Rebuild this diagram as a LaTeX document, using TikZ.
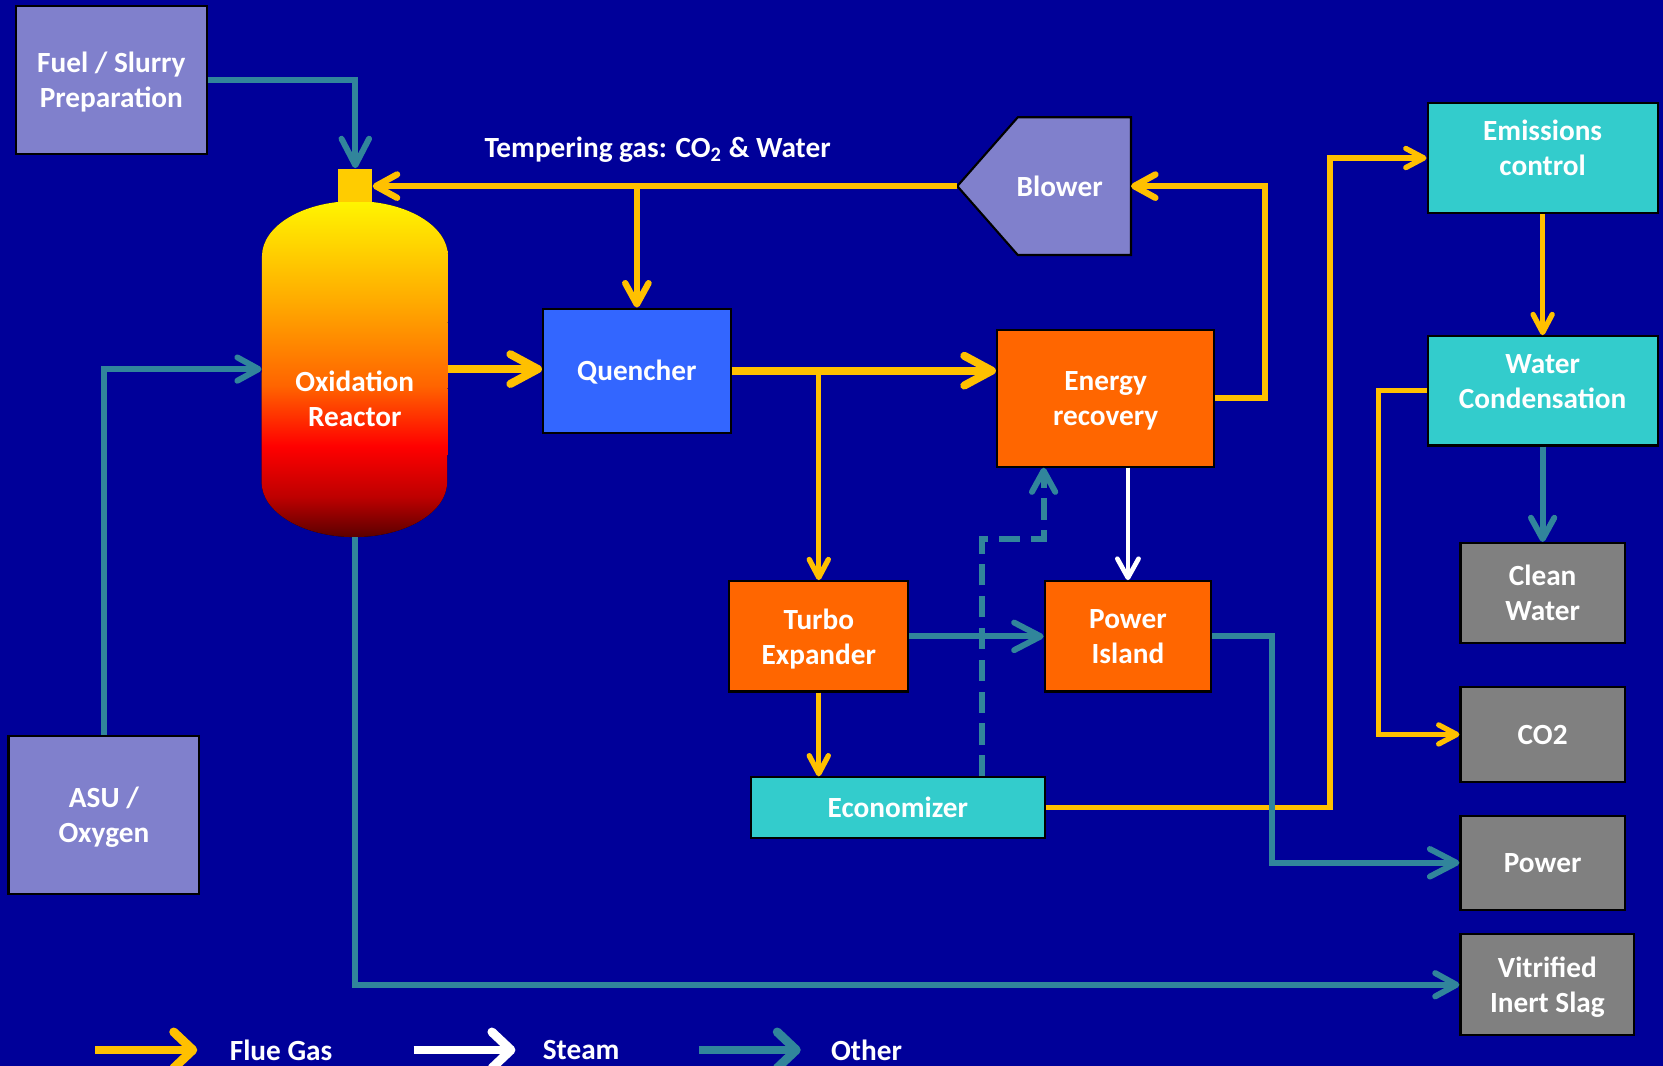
\documentclass[tikz,border=0pt]{standalone}
\usepackage{fontspec}
\setmainfont{Carlito}
\usetikzlibrary{arrows.meta,calc}
\definecolor{bgblue}{RGB}{0,0,153}
\definecolor{lav}{RGB}{128,128,204}
\definecolor{qblue}{RGB}{51,102,255}
\definecolor{orng}{RGB}{255,102,0}
\definecolor{cyanbox}{RGB}{51,204,204}
\definecolor{graybox}{RGB}{128,128,128}
\definecolor{flueY}{RGB}{255,192,0}
\definecolor{tealO}{RGB}{49,133,155}
\definecolor{nozzleY}{RGB}{255,204,0}
\definecolor{rdark}{RGB}{90,0,0}
\definecolor{rdark2}{RGB}{190,0,0}
\definecolor{rred}{RGB}{255,0,0}
\definecolor{ror1}{RGB}{255,100,0}
\definecolor{ror2}{RGB}{255,170,0}
\definecolor{ryel}{RGB}{255,245,0}
\pgfdeclareverticalshading{reactorshade}{100bp}{color(0bp)=(rdark); color(25bp)=(rdark); color(31bp)=(rdark2); color(38.5bp)=(rred); color(47.5bp)=(ror1); color(60bp)=(ror2); color(75bp)=(ryel); color(100bp)=(ryel)}
\tikzset{
  lbl/.style={text=white, font=\bfseries\fontsize{13.8pt}{16.5pt}\selectfont, align=center, inner sep=0pt},
  box/.style={lbl, draw=black, line width=1pt, fill=#1, text depth=0pt},
  flue/.style={draw=flueY, line width=2.5pt, -{Straight Barb[length=8.5pt,width=9pt,round]}},
  fluemid/.style={draw=flueY, line width=3pt, -{Straight Barb[length=10pt,width=11pt,round]}},
  fluethick/.style={draw=flueY, line width=3.8pt, -{Straight Barb[length=13pt,width=14pt,round]}},
  other/.style={draw=tealO, line width=2.8pt, -{Straight Barb[length=10pt,width=11pt,round]}},
  otherbig/.style={draw=tealO, line width=2.8pt, -{Straight Barb[length=12.5pt,width=13pt,round]}},
  otherdash/.style={other, dash pattern=on 10pt off 5pt},
  steamline/.style={draw=white, line width=2.2pt, -{Straight Barb[length=9pt,width=10pt,round]}},
  legendline/.style={line width=4.2pt, -{Straight Barb[length=9pt,width=17pt,round]}},
}
\begin{document}
\begin{tikzpicture}[x=0.5pt,y=-0.5pt]
\useasboundingbox (0,0) rectangle (1568,1005);
\fill[bgblue] (0,0) rectangle (1568,1005);

% nodes
\node[box=lav, minimum width=90pt, minimum height=69.5pt] (fuel) at (105,75.5) {Fuel / Slurry\\Preparation};
\node[box=lav, minimum width=90pt, minimum height=74.5pt] (asu) at (98,768.5) {ASU /\\Oxygen};
\node[box=qblue, minimum width=88.5pt, minimum height=58.5pt] (quencher) at (600.5,349.5) {Quencher};
\node[box=orng, minimum width=102.5pt, minimum height=64.5pt] (energy) at (1042.5,375.5) {Energy\\recovery};
\node[box=orng, minimum width=84.5pt, minimum height=52pt] (turbo) at (772,600) {Turbo\\Expander};
\node[box=orng, minimum width=78.5pt, minimum height=52pt] (pisland) at (1063.5,600) {Power\\Island};
\node[box=cyanbox, minimum width=138.5pt, minimum height=28.5pt] (econ) at (846.5,761.5) {Economizer};
\node[box=cyanbox, minimum width=108.5pt, minimum height=52pt] (emis) at (1454.5,149) {};
\node[lbl] (emistext) at (1454.5,139.5) {Emissions\\control};
\node[box=cyanbox, minimum width=108.5pt, minimum height=51.5pt] (wc) at (1454.5,368.5) {};
\node[lbl] (wctext) at (1454.5,359.5) {Water\\Condensation};
\node[box=graybox, minimum width=77.5pt, minimum height=47pt] (clean) at (1454.5,559) {Clean\\Water};
\node[box=graybox, minimum width=77.5pt, minimum height=44.5pt] (co2) at (1454.5,692.5) {CO2};
\node[box=graybox, minimum width=77.5pt, minimum height=44.5pt] (power) at (1454.5,813.5) {Power};
\node[box=graybox, minimum width=82pt, minimum height=47.5pt] (slag) at (1459,928.5) {Vitrified\\Inert Slag};

% blower
\node[minimum width=81.5pt, minimum height=64.5pt, inner sep=0pt] (blower) at (984.5,175.5) {};
\draw[fill=lav, line width=1pt] (blower.west) -- ([xshift=28.5pt]blower.north west) -- (blower.north east) -- (blower.south east) -- ([xshift=28.5pt]blower.south west) -- cycle;
\node[lbl] (blowertext) at ([xshift=7.3pt]blower.center) {Blower};

% reactor
\node[minimum width=87.5pt, minimum height=158pt, inner sep=0pt] (reactor) at (334.5,348) {};
\fill[shading=reactorshade] (reactor.north) arc[start angle=90, end angle=180, x radius=43.75pt, y radius=26pt]
  -- ([yshift=26pt]reactor.south west) arc[start angle=180, end angle=360, x radius=43.75pt, y radius=26pt]
  -- ([yshift=-26pt]reactor.north east) arc[start angle=0, end angle=90, x radius=43.75pt, y radius=26pt] -- cycle;
\node[lbl] (reactortext) at (334.5,376) {Oxidation\\Reactor};
\node[fill=nozzleY, minimum width=16pt, minimum height=15.5pt, inner sep=0pt] (nozzle) at (335,174.5) {};

\node[lbl] (templabel) at (620,141) {Tempering gas: CO\textsubscript{2} \& Water};

% flue gas connectors
\draw[fluemid] (blower.west) -- (blower.west -| nozzle.east);
\draw[fluemid] (quencher.north |- blower.west) -- (quencher.north);
\draw[fluethick] (reactor.east) -- (reactor.east -| quencher.west);
\draw[fluethick] (quencher.east) -- (quencher.east -| energy.west);
\draw[flue] (turbo.north |- quencher.east) -- (turbo.north);
\draw[fluemid] (energy.east) -- ++(47,0) |- (blower.east);
\draw[flue] (turbo.south) -- (turbo.south |- econ.north);
\draw[flue] (econ.east) -- ++(268,0) |- (emis.west);
\draw[flue] (emis.south) -- (wc.north);
\draw[flue] (wc.west) -- ++(-45,0) |- (co2.west);

% steam
\draw[steamline] (energy.south -| pisland.north) -- (pisland.north);

% other
\draw[otherbig] (fuel.east) -| (nozzle.north);
\draw[other] (asu.north) |- (reactor.west);
\draw[other] (reactor.south) |- (slag.west);
\draw[otherbig] (turbo.east) -- (pisland.west);
\coordinate (dbend) at (926,508);
\draw[otherdash] (econ.north -| dbend) -- (dbend) -| (energy.south -| pisland.west);
\draw[otherbig] (pisland.east) -- ++(56,0) |- (power.west);
\draw[other] (wc.south) -- (clean.north);

% legend
\coordinate (lf1) at (90,990); \coordinate (lf2) at (186,990);
\coordinate (ls1) at (390,990); \coordinate (ls2) at (486,990);
\coordinate (lo1) at (659,990); \coordinate (lo2) at (755,990);
\draw[legendline, draw=flueY] (lf1) -- (lf2);
\draw[legendline, draw=white] (ls1) -- (ls2);
\draw[legendline, draw=tealO] (lo1) -- (lo2);
\node[lbl] (lgf) at (265,990) {Flue Gas};
\node[lbl] (lgs) at (548,990) {Steam};
\node[lbl] (lgo) at (817,990) {Other};
\end{tikzpicture}
\end{document}
